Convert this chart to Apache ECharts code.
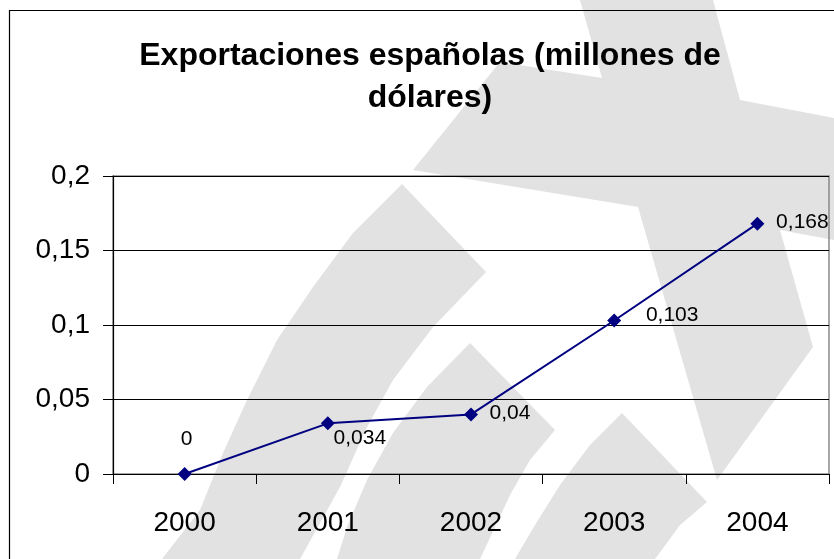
<!DOCTYPE html>
<html>
<head>
<meta charset="utf-8">
<script src="https://cdn.jsdelivr.net/npm/echarts@6/dist/echarts.min.js"></script>
<style>
html,body{margin:0;padding:0;background:#fff;}
#chart{width:834px;height:559px;}
</style>
</head>
<body>
<div id="chart"></div>
<script>
const years = ['2000', '2001', '2002', '2003', '2004'];
const exports = [0, 0.034, 0.04, 0.103, 0.168];
const yTicks = { min: 0, max: 0.2, interval: 0.05 };
const titleText = 'Exportaciones españolas (millones de\ndólares)';

// label placement (style, not data)
const labelOffsets = [[2, -35], [32, 15], [39, -1], [58, -5], [45, -1]];

const FONT = '"Liberation Sans", Arial, sans-serif';
const fmt = v => String(+Number(v).toFixed(3)).replace('.', ',');

const grey = '#e2e2e2';
const wm = [
  [[580,0],[713,0],[740,100],[834,118],[834,240],[780,230],[813,347],[717,480],[638,207],[413,170],[500,62],[602,78]],
  [[402,184],[353,233],[313,287],[277,340],[247,400],[223,453],[200,510],[162,559],[300,559],[340,487],[367,427],[393,380],[433,327],[486,272]],
  [[470,343],[427,387],[393,433],[367,480],[347,527],[337,559],[480,559],[495,527],[510,495],[530,460],[555,430]],
  [[622,413],[590,445],[560,485],[535,525],[515,559],[655,559],[680,525],[707,502]]
];

const chart = echarts.init(document.getElementById('chart'));
chart.setOption({
  animation: false,
  backgroundColor: '#fff',
  graphic: wm.map(p => ({
    type: 'polygon', z: -10, silent: true,
    shape: { points: p },
    style: { fill: grey }
  })).concat([{
    type: 'rect', z: -5, silent: true,
    shape: { x: 9.5, y: 10.5, width: 900, height: 700 },
    style: { fill: 'none', stroke: '#000', lineWidth: 1.2 }
  }]),
  title: {
    text: titleText,
    left: 425,
    textAlign: 'center',
    top: 30,
    textStyle: { fontFamily: FONT, fontSize: 32, fontWeight: 'bold', color: '#000', lineHeight: 42 }
  },
  grid: {
    left: 113, right: 5, top: 176, bottom: 85,
    show: true, borderColor: '#8a8a8a', borderWidth: 1.5, backgroundColor: 'transparent'
  },
  xAxis: {
    type: 'category',
    data: years,
    boundaryGap: true,
    axisLine: { lineStyle: { color: '#000', width: 1.2 } },
    axisTick: { show: true, length: 10, alignWithLabel: false, lineStyle: { color: '#000' } },
    axisLabel: { fontFamily: FONT, fontSize: 28, color: '#000', margin: 35 },
    splitLine: { show: false }
  },
  yAxis: {
    type: 'value',
    min: yTicks.min, max: yTicks.max, interval: yTicks.interval,
    axisLine: { show: true, lineStyle: { color: '#000', width: 1.2 } },
    axisTick: { show: true, length: 10, lineStyle: { color: '#000' } },
    axisLabel: { fontFamily: FONT, fontSize: 28, color: '#000', margin: 23, formatter: fmt },
    splitLine: { show: true, lineStyle: { color: '#000', width: 1 } }
  },
  series: [{
    type: 'line',
    data: exports.map((v, i) => ({
      value: v,
      label: { offset: labelOffsets[i] }
    })),
    symbol: 'diamond',
    symbolSize: 14,
    itemStyle: { color: '#000080' },
    lineStyle: { color: '#000080', width: 2 },
    label: {
      show: true,
      position: 'inside',
      fontFamily: FONT,
      fontSize: 21,
      color: '#000',
      formatter: p => fmt(p.value)
    },
    z: 5
  }]
});
</script>
</body>
</html>
